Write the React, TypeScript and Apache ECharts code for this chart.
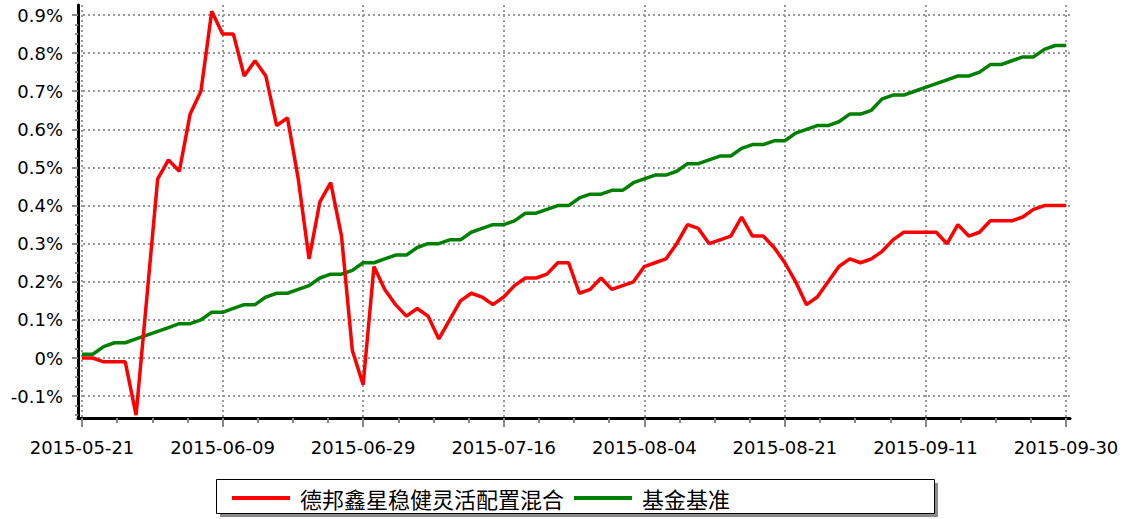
import React, { useEffect, useRef } from "react";
import * as echarts from "echarts";

const dates: string[] = [
  "2015-05-21", "2015-05-22", "2015-05-25", "2015-05-26", "2015-05-27", "2015-05-28", "2015-05-29",
  "2015-06-01", "2015-06-02", "2015-06-03", "2015-06-04", "2015-06-05", "2015-06-08", "2015-06-09",
  "2015-06-10", "2015-06-11", "2015-06-12", "2015-06-15", "2015-06-16", "2015-06-17", "2015-06-18",
  "2015-06-19", "2015-06-23", "2015-06-24", "2015-06-25", "2015-06-26", "2015-06-29",
  "2015-06-30", "2015-07-01", "2015-07-02", "2015-07-03", "2015-07-06", "2015-07-07", "2015-07-08",
  "2015-07-09", "2015-07-10", "2015-07-13", "2015-07-14", "2015-07-15", "2015-07-16",
  "2015-07-17", "2015-07-20", "2015-07-21", "2015-07-22", "2015-07-23", "2015-07-24", "2015-07-27",
  "2015-07-28", "2015-07-29", "2015-07-30", "2015-07-31", "2015-08-03", "2015-08-04",
  "2015-08-05", "2015-08-06", "2015-08-07", "2015-08-10", "2015-08-11", "2015-08-12", "2015-08-13",
  "2015-08-14", "2015-08-17", "2015-08-18", "2015-08-19", "2015-08-20", "2015-08-21",
  "2015-08-24", "2015-08-25", "2015-08-26", "2015-08-27", "2015-08-28", "2015-08-31", "2015-09-01",
  "2015-09-02", "2015-09-07", "2015-09-08", "2015-09-09", "2015-09-10", "2015-09-11",
  "2015-09-14", "2015-09-15", "2015-09-16", "2015-09-17", "2015-09-18", "2015-09-21", "2015-09-22",
  "2015-09-23", "2015-09-24", "2015-09-25", "2015-09-28", "2015-09-29", "2015-09-30",
];

const fundName = "德邦鑫星稳健灵活配置混合";
const benchName = "基金基准";

// cumulative return, in percent
const fundValues: number[] = [
  0.0, 0.0, -0.01, -0.01, -0.01, -0.15, 0.16, 0.47, 0.52, 0.49,
  0.64, 0.7, 0.91, 0.85, 0.85, 0.74, 0.78, 0.74, 0.61, 0.63,
  0.47, 0.26, 0.41, 0.46, 0.32, 0.02, -0.07, 0.24, 0.18, 0.14,
  0.11, 0.13, 0.11, 0.05, 0.1, 0.15, 0.17, 0.16, 0.14, 0.16,
  0.19, 0.21, 0.21, 0.22, 0.25, 0.25, 0.17, 0.18, 0.21, 0.18,
  0.19, 0.2, 0.24, 0.25, 0.26, 0.3, 0.35, 0.34, 0.3, 0.31,
  0.32, 0.37, 0.32, 0.32, 0.29, 0.25, 0.2, 0.14, 0.16, 0.2,
  0.24, 0.26, 0.25, 0.26, 0.28, 0.31, 0.33, 0.33, 0.33, 0.33,
  0.3, 0.35, 0.32, 0.33, 0.36, 0.36, 0.36, 0.37, 0.39, 0.4,
  0.4, 0.4,
];

const benchValues: number[] = [
  0.01, 0.01, 0.03, 0.04, 0.04, 0.05, 0.06, 0.07, 0.08, 0.09,
  0.09, 0.1, 0.12, 0.12, 0.13, 0.14, 0.14, 0.16, 0.17, 0.17,
  0.18, 0.19, 0.21, 0.22, 0.22, 0.23, 0.25, 0.25, 0.26, 0.27,
  0.27, 0.29, 0.3, 0.3, 0.31, 0.31, 0.33, 0.34, 0.35, 0.35,
  0.36, 0.38, 0.38, 0.39, 0.4, 0.4, 0.42, 0.43, 0.43, 0.44,
  0.44, 0.46, 0.47, 0.48, 0.48, 0.49, 0.51, 0.51, 0.52, 0.53,
  0.53, 0.55, 0.56, 0.56, 0.57, 0.57, 0.59, 0.6, 0.61, 0.61,
  0.62, 0.64, 0.64, 0.65, 0.68, 0.69, 0.69, 0.7, 0.71, 0.72,
  0.73, 0.74, 0.74, 0.75, 0.77, 0.77, 0.78, 0.79, 0.79, 0.81,
  0.82, 0.82,
];

const yTickValues: number[] = [-0.1, 0, 0.1, 0.2, 0.3, 0.4, 0.5, 0.6, 0.7, 0.8, 0.9];
const xLabelIndices: number[] = [0, 13, 26, 39, 52, 65, 78, 91];

const X_MIN = -0.37;
const X_MAX = 91.37;
const Y_MIN = -0.1574;
const Y_MAX = 0.9263;

const xMinorTicks: number[] = [];
for (let k = 0; k <= 28; k++) xMinorTicks.push(k * 3.25);
const yMinorTicks: number[] = [];
for (let k = -6; k <= 36; k++) yMinorTicks.push(Math.round(k * 0.025 * 1000) / 1000);

const axisFont = "'DejaVu Sans', 'Liberation Sans', Arial, sans-serif";
const cjkFont = "'Noto Sans CJK SC', 'Noto Sans', sans-serif";

export default function App() {
  const ref = useRef<HTMLDivElement>(null);

  useEffect(() => {
    if (!ref.current) return;
    const chart = echarts.init(ref.current, null, { renderer: "svg" });
    const splitStyle = { color: "#999999", width: 2, type: [2, 3] as number[] };
    chart.setOption({
      animation: false,
      backgroundColor: "#ffffff",
      grid: { left: 78, right: 53, top: 5, bottom: 101, containLabel: false },
      graphic: [
        {
          type: "rect",
          shape: { x: 220, y: 483, width: 718, height: 34 },
          style: { fill: "#8a8a8a" },
          z: 1,
        },
        {
          type: "rect",
          shape: { x: 216.5, y: 479.5, width: 718, height: 34 },
          style: { fill: "#ffffff", stroke: "#000000", lineWidth: 1 },
          z: 2,
        },
      ],
      legend: {
        show: true,
        left: 227,
        top: 482,
        icon: "rect",
        itemWidth: 58,
        itemHeight: 4,
        itemGap: 10,
        z: 10,
        textStyle: {
          fontFamily: cjkFont,
          fontSize: 22,
          color: "#000000",
          padding: [0, 0, 0, 5],
        },
        data: [fundName, benchName],
      },
      xAxis: [
        {
          type: "value",
          min: X_MIN,
          max: X_MAX,
          position: "bottom",
          axisLine: { show: true, onZero: false, lineStyle: { color: "#000000", width: 3 } },
          axisTick: {
            show: true,
            customValues: xLabelIndices,
            length: 9,
            lineStyle: { color: "#888888", width: 2 },
          },
          axisLabel: {
            show: true,
            customValues: xLabelIndices,
            formatter: (v: number) => dates[Math.round(v)] ?? "",
            fontFamily: axisFont,
            fontSize: 18,
            color: "#000000",
            margin: 20,
          },
          splitLine: { show: true, lineStyle: splitStyle },
        },
        {
          type: "value",
          min: X_MIN,
          max: X_MAX,
          position: "bottom",
          axisLine: { show: false, onZero: false },
          axisTick: {
            show: true,
            customValues: xMinorTicks,
            length: 5,
            lineStyle: { color: "#888888", width: 2 },
          },
          axisLabel: { show: false },
          splitLine: { show: false },
        },
      ],
      yAxis: [
        {
          type: "value",
          min: Y_MIN,
          max: Y_MAX,
          position: "left",
          axisLine: { show: true, onZero: false, lineStyle: { color: "#000000", width: 3 } },
          axisTick: {
            show: true,
            customValues: yTickValues,
            length: 6,
            lineStyle: { color: "#888888", width: 2 },
          },
          axisLabel: {
            show: true,
            customValues: yTickValues,
            formatter: (v: number) => `${Math.round(v * 10) / 10}%`,
            fontFamily: axisFont,
            fontSize: 18,
            color: "#000000",
            margin: 15,
          },
          splitLine: { show: true, lineStyle: splitStyle },
        },
        {
          type: "value",
          min: Y_MIN,
          max: Y_MAX,
          position: "left",
          axisLine: { show: false, onZero: false },
          axisTick: {
            show: true,
            customValues: yMinorTicks,
            length: 3,
            lineStyle: { color: "#888888", width: 2 },
          },
          axisLabel: { show: false },
          splitLine: { show: false },
        },
      ],
      series: [
        {
          name: fundName,
          type: "line",
          xAxisIndex: 0,
          yAxisIndex: 0,
          data: fundValues.map((v, i) => [i, v]),
          showSymbol: false,
          symbol: "none",
          lineStyle: { color: "#ff0000", width: 3.5 },
          itemStyle: { color: "#ff0000" },
          z: 4,
        },
        {
          name: benchName,
          type: "line",
          xAxisIndex: 0,
          yAxisIndex: 0,
          data: benchValues.map((v, i) => [i, v]),
          showSymbol: false,
          symbol: "none",
          lineStyle: { color: "#008000", width: 3.5 },
          itemStyle: { color: "#008000" },
          z: 3,
        },
      ],
    });
    return () => chart.dispose();
  }, []);

  return (
    <div
      ref={ref}
      style={{ position: "absolute", left: 0, top: 0, width: 1123, height: 519, background: "#fff" }}
    />
  );
}
